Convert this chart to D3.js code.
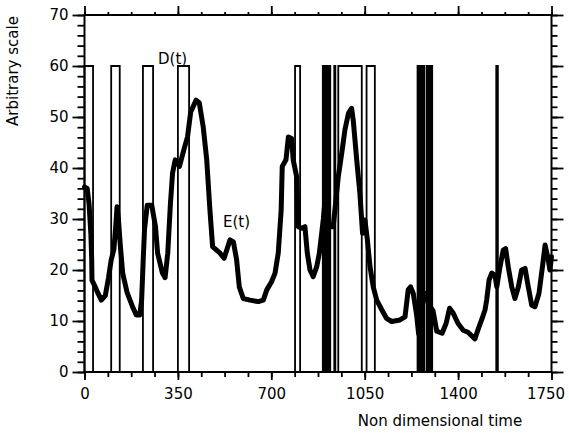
<!DOCTYPE html>
<html><head><meta charset="utf-8">
<script src="https://cdn.jsdelivr.net/npm/d3@7"></script>
<style>body{margin:0;background:#fff} svg{display:block}</style>
</head><body><svg id="c" width="569" height="434"></svg>
<script>
// E(t): energy-like signal (thick line)
const eTime = [0,10,17,24,27,28,40,50,63,78,90,100,110,117,122,127,134,143,160,180,194,207,214,220,225,235,252,266,274,292,302,312,322,330,340,356,372,386,398,418,430,445,458,470,480,495,508,523,533,545,558,570,580,595,620,651,670,683,701,714,726,737,741,755,764,776,782,795,801,814,826,835,845,857,870,880,895,900,908,932,942,951,964,976,989,1001,1007,1020,1032,1042,1051,1060,1070,1082,1095,1114,1132,1151,1182,1201,1213,1222,1232,1245,1252,1262,1276,1288,1306,1320,1340,1355,1368,1382,1400,1419,1437,1463,1476,1490,1501,1507,1516,1526,1538,1545,1557,1569,1578,1588,1601,1613,1626,1638,1651,1663,1676,1688,1703,1716,1726,1738,1744,1750];
const eValue = [36.3,36,33,27,22,18,16.7,15.5,14.1,15,18.5,22,24,28.5,32.4,30,25,19.4,15.5,12.8,11.2,11.2,14,22,28,32.7,32.7,28.5,23.3,19.4,18.5,23.3,33,39,41.6,40.3,43.5,46.1,51,53.3,52.8,48,41.6,31.8,24.6,23.9,23.3,22.3,23.9,25.9,25.5,22,16.7,14.4,14.1,13.8,14.1,16.1,17.7,19.4,23.3,31.8,40.3,41.6,46.1,45.8,41.6,38.3,28.5,28.2,28.5,23.3,20,18.7,20.6,23.3,30,33,28.5,28.5,33.7,38.3,42.9,47.5,50.7,51.7,49.4,41.6,35,27.2,29.8,25.9,20.6,16.7,14.1,12.2,10.5,9.9,10.2,10.8,16.1,16.7,15.4,11,7.5,14,15.4,13.5,12,8,7.6,9.5,12.5,11.5,9.5,8.2,7.8,6.5,8.5,10.5,12.2,14.1,18,19.4,19,16.7,20.6,23.9,24.2,20.6,16.7,14.4,16.7,20,20.3,16.7,13.1,12.8,15.4,20.6,24.9,22,20,22.6];
// D(t): on/off signal, level 60 between rise and fall times
const dRise = [0,100,219,350,789,893,901,909,916,936,951,1057,1248,1256,1264,1271,1283,1290,1298,1543];
const dFall = [32,132,257,392,808,897,905,913,921,940,1039,1088,1252,1260,1268,1274,1287,1294,1303,1549];
const dLevel = 60;
const xTicks = [0,350,700,1050,1400,1750];
const xMinor = d3.range(0,1751,87.5);
const yTicks = [0,10,20,30,40,50,60,70];
const yMinor = d3.range(0,71,2);

const svg = d3.select('#c');
const L=84.5, R=551.5, T=15, B=372;
const x = d3.scaleLinear().domain([0,1750]).range([L,R]);
const y = d3.scaleLinear().domain([0,70]).range([B,T]);
const font = 'DejaVu Sans, Verdana, sans-serif';

function styleAxis(g){
  g.select('.domain').remove();
  g.selectAll('.tick line').attr('stroke','#000').attr('stroke-width',1.8);
  g.selectAll('.tick text').attr('font-family',font).attr('font-size',15).attr('fill','#000');
}
// minor ticks
svg.append('g').attr('transform',`translate(0,${B})`).call(d3.axisBottom(x).tickValues(xMinor).tickSize(5).tickFormat('')).call(styleAxis);
svg.append('g').attr('transform',`translate(0,${T})`).call(d3.axisTop(x).tickValues(xMinor).tickSize(3).tickFormat('')).call(styleAxis);
svg.append('g').attr('transform',`translate(${L},0)`).call(d3.axisLeft(y).tickValues(yMinor).tickSize(7).tickFormat('')).call(styleAxis);
svg.append('g').attr('transform',`translate(${R},0)`).call(d3.axisRight(y).tickValues(yMinor).tickSize(6).tickFormat('')).call(styleAxis);
// major ticks
const gx = svg.append('g').attr('transform',`translate(0,${B})`).call(d3.axisBottom(x).tickValues(xTicks).tickSize(8).tickPadding(8).tickFormat(d3.format('d'))).call(styleAxis);
gx.selectAll('.tick text').filter(d=>d===1750).attr('dx',-6);
svg.append('g').attr('transform',`translate(0,${T})`).call(d3.axisTop(x).tickValues(xTicks).tickSize(9).tickFormat('')).call(styleAxis);
svg.append('g').attr('transform',`translate(${L},0)`).call(d3.axisLeft(y).tickValues(yTicks).tickSize(12).tickPadding(4).tickFormat(d3.format('d'))).call(styleAxis);
svg.append('g').attr('transform',`translate(${R},0)`).call(d3.axisRight(y).tickValues(yTicks).tickSize(12).tickFormat('')).call(styleAxis);

// frame
svg.append('rect').attr('x',L).attr('y',T).attr('width',R-L).attr('height',B-T)
  .attr('fill','none').attr('stroke','#000').attr('stroke-width',2);

// D(t)
const dPts = [[0,0]];
dRise.forEach((r,i)=>{ dPts.push([r,0],[r,dLevel],[dFall[i],dLevel],[dFall[i],0]); });
dPts.push([1750,0]);
svg.append('path').datum(dPts)
  .attr('d', d3.line().x(d=>x(d[0])).y(d=>y(d[1])))
  .attr('fill','none').attr('stroke','#000').attr('stroke-width',1.8).attr('stroke-linejoin','miter');

// E(t)
const ePts = eTime.map((t,i)=>[t,eValue[i]]);
svg.append('path').datum(ePts)
  .attr('d', d3.line().x(d=>x(d[0])).y(d=>y(d[1])))
  .attr('fill','none').attr('stroke','#000').attr('stroke-width',5).attr('stroke-linejoin','round').attr('stroke-linecap','round');

// labels
svg.append('text').attr('x',158).attr('y',64).attr('font-family',font).attr('font-size',15).text('D(t)');
svg.append('text').attr('x',223).attr('y',227).attr('font-family',font).attr('font-size',15).text('E(t)');
svg.append('text').attr('x',440).attr('y',426).attr('text-anchor','middle').attr('font-family',font).attr('font-size',15).text('Non dimensional time');
svg.append('text').attr('transform','translate(18,71) rotate(-90)').attr('text-anchor','middle').attr('font-family',font).attr('font-size',15).text('Arbitrary scale');
</script></body></html>
